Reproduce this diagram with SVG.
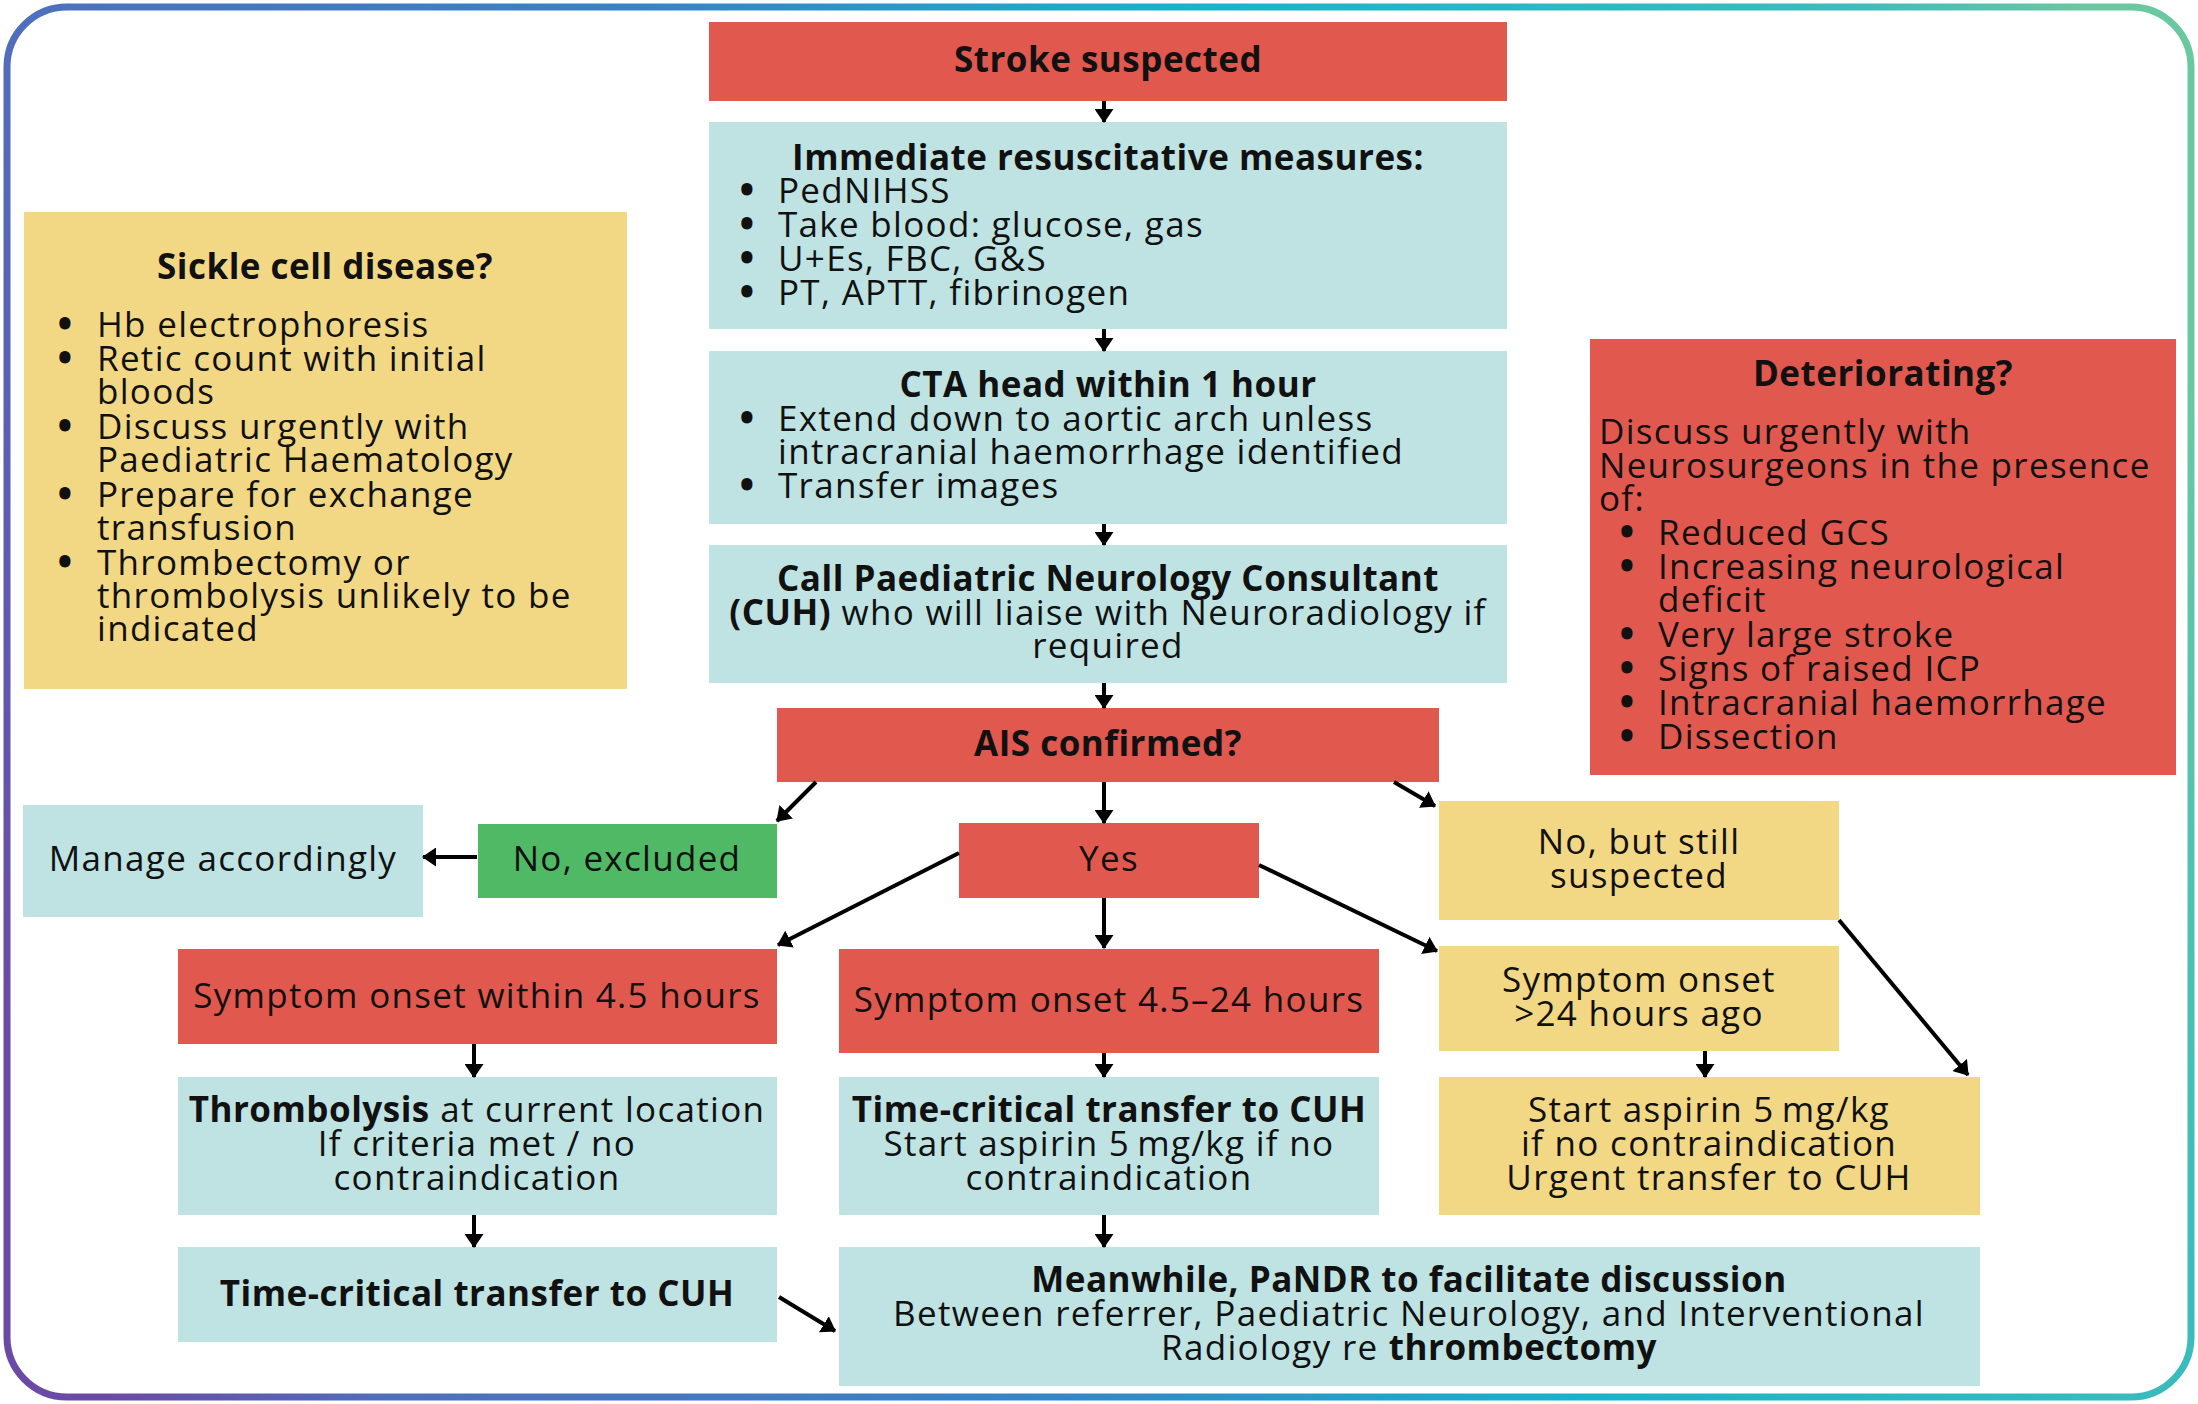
<svg xmlns="http://www.w3.org/2000/svg" width="2198" height="1404" viewBox="0 0 2198 1404">
<defs>
<linearGradient id="border" gradientUnits="userSpaceOnUse" x1="0" y1="1000" x2="2198" y2="400">
<stop offset="0" stop-color="#6b4aa6"/>
<stop offset="0.12" stop-color="#4f6fbd"/>
<stop offset="0.4" stop-color="#3585c8"/>
<stop offset="0.62" stop-color="#19b2cc"/>
<stop offset="0.9" stop-color="#3cbcbc"/>
<stop offset="1" stop-color="#6ac8a0"/>
</linearGradient>
<marker id="ah" viewBox="0 0 14 19" refX="13" refY="9.5" markerWidth="14" markerHeight="19" markerUnits="userSpaceOnUse" orient="auto">
<path d="M0,0 L14,9.5 L0,19 z" fill="#000"/>
</marker>
<style>
.t{font-family:"Open Sans","Noto Sans","DejaVu Sans",sans-serif;font-size:35px;letter-spacing:1.3px;fill:#111}
.b{font-weight:700;letter-spacing:0.5px}
.c{text-anchor:middle}
.l{text-anchor:start}
.bu{font-weight:800;letter-spacing:0}
.red{fill:#e1584f}
.teal{fill:#bee3e2}
.yel{fill:#f2d885}
.grn{fill:#50b965}
.cn{stroke:#000;stroke-width:4;fill:none;marker-end:url(#ah)}
</style>
</defs>
<rect x="7" y="7" width="2184" height="1390" rx="60" ry="60" fill="#fff" stroke="url(#border)" stroke-width="7"/>

<g id="stroke-suspected">
<rect class="red" x="709" y="22" width="798" height="79"/>
<text class="t b c" x="1108" y="72">Stroke suspected</text>
</g>

<g id="immediate-measures">
<rect class="teal" x="709" y="122" width="798" height="207"/>
<text class="t"><tspan class="b c" x="1108" y="170">Immediate resuscitative measures:</tspan><tspan class="bu l" x="740" y="203">•</tspan><tspan class="l" x="778" y="203">PedNIHSS</tspan><tspan class="bu l" x="740" y="237">•</tspan><tspan class="l" x="778" y="237">Take blood: glucose, gas</tspan><tspan class="bu l" x="740" y="271">•</tspan><tspan class="l" x="778" y="271">U+Es, FBC, G&amp;S</tspan><tspan class="bu l" x="740" y="305">•</tspan><tspan class="l" x="778" y="305">PT, APTT, fibrinogen</tspan></text>
</g>

<g id="cta-head">
<rect class="teal" x="709" y="351" width="798" height="173"/>
<text class="t"><tspan class="b c" x="1108" y="397">CTA head within 1 hour</tspan><tspan class="bu l" x="740" y="431">•</tspan><tspan class="l" x="778" y="431">Extend down to aortic arch unless</tspan><tspan class="l" x="778" y="464">intracranial haemorrhage identified</tspan><tspan class="bu l" x="740" y="498">•</tspan><tspan class="l" x="778" y="498">Transfer images</tspan></text>
</g>

<g id="call-neurology">
<rect class="teal" x="709" y="545" width="798" height="138"/>
<text class="t c"><tspan class="b" x="1108" y="591">Call Paediatric Neurology Consultant</tspan><tspan x="1108" y="625"><tspan class="b">(CUH)</tspan> who will liaise with Neuroradiology if</tspan><tspan x="1108" y="658">required</tspan></text>
</g>

<g id="sickle-cell">
<rect class="yel" x="24" y="212" width="603" height="477"/>
<text class="t"><tspan class="b c" x="325" y="279">Sickle cell disease?</tspan><tspan class="bu l" x="58" y="337">•</tspan><tspan class="l" x="97" y="337">Hb electrophoresis</tspan><tspan class="bu l" x="58" y="371">•</tspan><tspan class="l" x="97" y="371">Retic count with initial</tspan><tspan class="l" x="97" y="404">bloods</tspan><tspan class="bu l" x="58" y="439">•</tspan><tspan class="l" x="97" y="439">Discuss urgently with</tspan><tspan class="l" x="97" y="472">Paediatric Haematology</tspan><tspan class="bu l" x="58" y="507">•</tspan><tspan class="l" x="97" y="507">Prepare for exchange</tspan><tspan class="l" x="97" y="540">transfusion</tspan><tspan class="bu l" x="58" y="575">•</tspan><tspan class="l" x="97" y="575">Thrombectomy or</tspan><tspan class="l" x="97" y="608">thrombolysis unlikely to be</tspan><tspan class="l" x="97" y="641">indicated</tspan></text>
</g>

<g id="deteriorating">
<rect class="red" x="1590" y="339" width="586" height="436"/>
<text class="t"><tspan class="b c" x="1883" y="386">Deteriorating?</tspan><tspan class="l" x="1599" y="444">Discuss urgently with</tspan><tspan class="l" x="1599" y="478">Neurosurgeons in the presence</tspan><tspan class="l" x="1599" y="511">of:</tspan><tspan class="bu l" x="1620" y="545">•</tspan><tspan class="l" x="1658" y="545">Reduced GCS</tspan><tspan class="bu l" x="1620" y="579">•</tspan><tspan class="l" x="1658" y="579">Increasing neurological</tspan><tspan class="l" x="1658" y="612">deficit</tspan><tspan class="bu l" x="1620" y="647">•</tspan><tspan class="l" x="1658" y="647">Very large stroke</tspan><tspan class="bu l" x="1620" y="681">•</tspan><tspan class="l" x="1658" y="681">Signs of raised ICP</tspan><tspan class="bu l" x="1620" y="715">•</tspan><tspan class="l" x="1658" y="715">Intracranial haemorrhage</tspan><tspan class="bu l" x="1620" y="749">•</tspan><tspan class="l" x="1658" y="749">Dissection</tspan></text>
</g>

<g id="ais-confirmed">
<rect class="red" x="777" y="708" width="662" height="74"/>
<text class="t b c" x="1108" y="756">AIS confirmed?</text>
</g>

<g id="manage-accordingly">
<rect class="teal" x="23" y="805" width="400" height="112"/>
<text class="t c" x="223" y="871">Manage accordingly</text>
</g>

<g id="no-excluded">
<rect class="grn" x="478" y="824" width="299" height="74"/>
<text class="t c" x="627" y="871">No, excluded</text>
</g>

<g id="yes">
<rect class="red" x="959" y="823" width="300" height="75"/>
<text class="t c" x="1109" y="871">Yes</text>
</g>

<g id="no-still-suspected">
<rect class="yel" x="1439" y="801" width="400" height="119"/>
<text class="t c"><tspan x="1639" y="854">No, but still</tspan><tspan x="1639" y="888">suspected</tspan></text>
</g>

<g id="onset-4-5">
<rect class="red" x="178" y="949" width="599" height="95"/>
<text class="t c" x="477" y="1008">Symptom onset within 4.5 hours</text>
</g>

<g id="onset-4-5-24">
<rect class="red" x="839" y="949" width="540" height="104"/>
<text class="t c" x="1109" y="1012">Symptom onset 4.5–24 hours</text>
</g>

<g id="onset-24">
<rect class="yel" x="1439" y="946" width="400" height="105"/>
<text class="t c"><tspan x="1639" y="992">Symptom onset</tspan><tspan x="1639" y="1026">&gt;24 hours ago</tspan></text>
</g>

<g id="thrombolysis">
<rect class="teal" x="178" y="1077" width="599" height="138"/>
<text class="t c"><tspan x="477" y="1122"><tspan class="b">Thrombolysis</tspan> at current location</tspan><tspan x="477" y="1156">If criteria met / no</tspan><tspan x="477" y="1190">contraindication</tspan></text>
</g>

<g id="transfer-mid">
<rect class="teal" x="839" y="1077" width="540" height="138"/>
<text class="t c"><tspan class="b" x="1109" y="1122">Time-critical transfer to CUH</tspan><tspan x="1109" y="1156">Start aspirin 5&#8201;mg/kg if no</tspan><tspan x="1109" y="1190">contraindication</tspan></text>
</g>

<g id="aspirin-right">
<rect class="yel" x="1439" y="1077" width="541" height="138"/>
<text class="t c"><tspan x="1709" y="1122">Start aspirin 5&#8201;mg/kg</tspan><tspan x="1709" y="1156">if no contraindication</tspan><tspan x="1709" y="1190">Urgent transfer to CUH</tspan></text>
</g>

<g id="transfer-left">
<rect class="teal" x="178" y="1247" width="599" height="95"/>
<text class="t b c" x="477" y="1306">Time-critical transfer to CUH</text>
</g>

<g id="meanwhile">
<rect class="teal" x="839" y="1247" width="1141" height="139"/>
<text class="t c"><tspan class="b" x="1409" y="1292">Meanwhile, PaNDR to facilitate discussion</tspan><tspan x="1409" y="1326">Between referrer, Paediatric Neurology, and Interventional</tspan><tspan x="1409" y="1360">Radiology re <tspan class="b">thrombectomy</tspan></tspan></text>
</g>

<g id="connectors">
<line class="cn" x1="1104" y1="101" x2="1104" y2="122"/>
<line class="cn" x1="1104" y1="329" x2="1104" y2="351"/>
<line class="cn" x1="1104" y1="524" x2="1104" y2="545"/>
<line class="cn" x1="1104" y1="683" x2="1104" y2="708"/>
<line class="cn" x1="816" y1="782" x2="777" y2="821"/>
<line class="cn" x1="477" y1="857" x2="423" y2="857"/>
<line class="cn" x1="1104" y1="782" x2="1104" y2="823"/>
<line class="cn" x1="1394" y1="782" x2="1435" y2="806"/>
<line class="cn" x1="959" y1="853" x2="778" y2="945"/>
<line class="cn" x1="1104" y1="898" x2="1104" y2="948"/>
<line class="cn" x1="1259" y1="865" x2="1437" y2="951"/>
<line class="cn" x1="1839" y1="920" x2="1968" y2="1075"/>
<line class="cn" x1="1705" y1="1051" x2="1705" y2="1077"/>
<line class="cn" x1="474" y1="1044" x2="474" y2="1077"/>
<line class="cn" x1="474" y1="1215" x2="474" y2="1247"/>
<line class="cn" x1="1104" y1="1053" x2="1104" y2="1077"/>
<line class="cn" x1="1104" y1="1215" x2="1104" y2="1247"/>
<line class="cn" x1="779" y1="1297" x2="835" y2="1331"/>
</g>
</svg>
